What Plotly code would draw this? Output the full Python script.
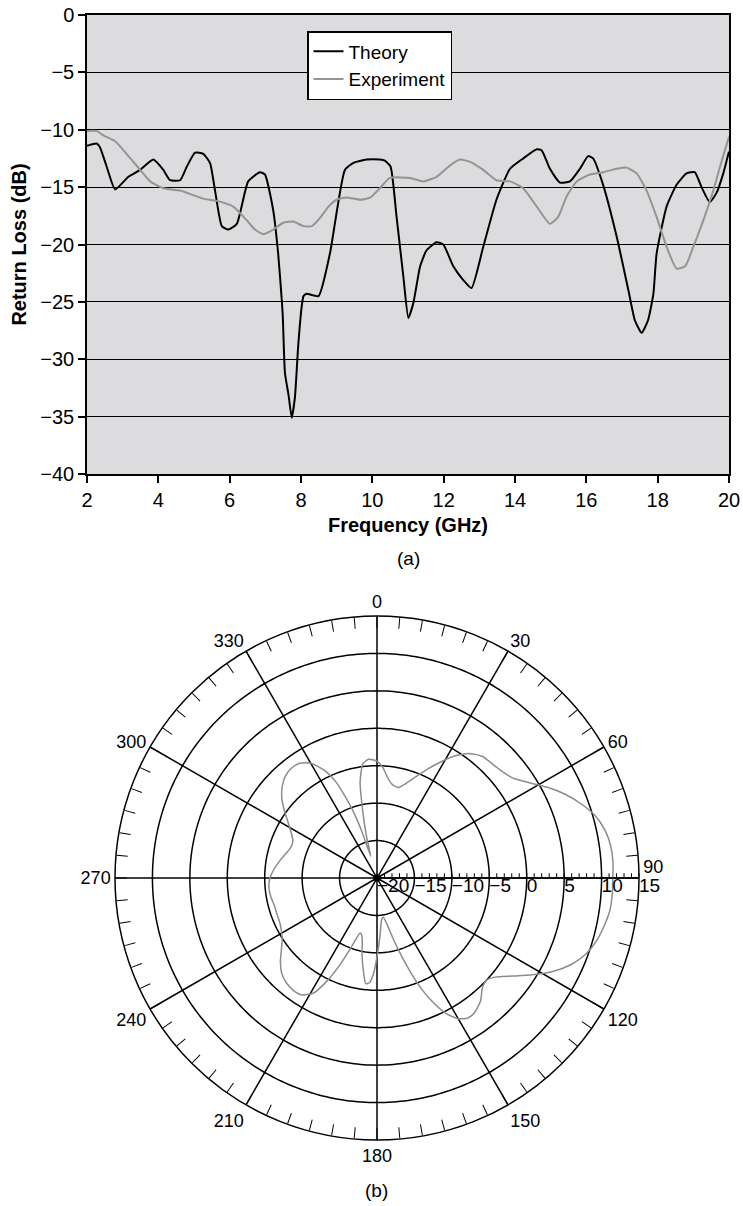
import numpy as np
import plotly.graph_objects as go

# ---- (a) return loss versus frequency ----
theory_freq = [2.0, 2.27, 2.36, 2.55, 2.79, 3.16, 3.49, 3.86, 4.14, 4.33, 4.61, 4.80, 5.03, 5.26,
               5.45, 5.59, 5.78, 5.96, 6.20, 6.52, 6.85, 6.99, 7.22, 7.36, 7.46, 7.49, 7.55, 7.65,
               7.74, 7.83, 7.92, 8.02, 8.07, 8.16, 8.49, 8.81, 9.23, 9.46, 9.84, 10.21, 10.35,
               10.51, 10.68, 10.87, 11.01, 11.15, 11.34, 11.52, 11.80, 11.99, 12.27, 12.55, 12.78,
               13.11, 13.48, 13.86, 14.23, 14.61, 14.75, 14.98, 15.26, 15.54, 15.82, 16.05, 16.19,
               16.47, 16.85, 17.18, 17.36, 17.55, 17.73, 17.88, 17.97, 18.25, 18.53, 18.81, 19.04,
               19.23, 19.46, 19.65, 19.84, 20.0]
theory_rl = [-11.4, -11.2, -11.5, -13.2, -15.2, -14.1, -13.5, -12.6, -13.5, -14.4, -14.4, -13.2,
             -12.0, -12.1, -12.9, -15.3, -18.4, -18.7, -18.2, -14.5, -13.7, -13.9, -17.0, -20.8,
             -24.8, -26.3, -31.2, -33.1, -35.1, -33.3, -28.9, -25.4, -24.5, -24.3, -24.5, -20.8,
             -13.5, -12.9, -12.6, -12.6, -12.7, -13.2, -17.6, -22.8, -26.4, -25.1, -21.9, -20.5,
             -19.8, -20.0, -21.9, -23.1, -23.8, -20.2, -16.1, -13.4, -12.5, -11.7, -11.8, -13.4,
             -14.6, -14.5, -13.4, -12.3, -12.5, -14.8, -19.3, -24.0, -26.6, -27.7, -26.6, -24.3,
             -20.8, -16.7, -14.8, -13.8, -13.7, -15.0, -16.3, -15.5, -13.8, -11.9]

exp_freq = [2.0, 2.27, 2.46, 2.79, 3.11, 3.49, 3.77, 4.14, 4.61, 4.98, 5.26, 5.64, 6.10, 6.48,
            6.71, 6.94, 7.22, 7.50, 7.78, 8.07, 8.30, 8.53, 8.77, 9.00, 9.28, 9.65, 9.95, 10.21,
            10.49, 11.06, 11.43, 11.80, 12.18, 12.46, 12.74, 13.11, 13.48, 13.86, 14.23, 14.61,
            14.98, 15.21, 15.45, 15.73, 16.10, 16.48, 16.85, 17.13, 17.41, 17.69, 17.97, 18.25,
            18.53, 18.77, 19.00, 19.28, 19.56, 19.75, 20.0]
exp_rl = [-10.1, -10.1, -10.5, -11.0, -12.1, -13.5, -14.5, -15.1, -15.3, -15.7, -16.0, -16.2,
          -16.7, -17.9, -18.7, -19.1, -18.7, -18.1, -18.0, -18.4, -18.4, -17.7, -16.7, -16.1,
          -15.9, -16.1, -15.9, -15.1, -14.2, -14.2, -14.5, -14.1, -13.1, -12.6, -12.8, -13.5,
          -14.4, -14.5, -15.1, -16.7, -18.2, -17.6, -15.8, -14.5, -13.9, -13.7, -13.4, -13.3,
          -13.8, -15.3, -17.6, -20.2, -22.1, -21.9, -20.2, -17.9, -15.3, -13.2, -10.6]

freq_ticks = [2, 4, 6, 8, 10, 12, 14, 16, 18, 20]
rl_ticks = [-40, -35, -30, -25, -20, -15, -10, -5, 0]

# ---- (b) radiation pattern (dB) ----
pattern_theta = [0, 3, 6, 9, 13, 17, 21, 25, 29, 33, 37, 41, 46, 50, 54, 58, 62, 66, 70, 74, 78,
                 82, 86, 90, 94, 98, 102, 106, 110, 114, 118, 122, 126, 130, 133, 136, 140, 144,
                 147, 150, 153, 156, 159, 162, 165, 168, 171, 174, 177, 180, 182, 184, 186, 188,
                 191, 194, 197, 200, 203, 206, 209, 213, 217, 221, 225, 229, 233, 237, 241, 245,
                 250, 255, 260, 265, 270, 275, 280, 285, 290, 294, 298, 302, 306, 310, 314, 318,
                 322, 326, 330, 334, 337, 340, 342, 344, 346, 348, 350, 353, 356]
pattern_db = [-4.4, -5.2, -6.5, -7.3, -7.6, -6.8, -5.5, -3.9, -2.2, -0.5, 0.8, 1.5, 1.7, 2.0, 2.6,
              4.0, 5.8, 7.5, 9.0, 10.3, 11.1, 11.5, 11.6, 11.5, 11.5, 11.4, 11.0, 10.5, 9.7, 8.4,
              6.6, 4.4, 2.3, 0.6, 0.0, 0.3, 1.5, 2.2, 2.3, 1.7, 0.3, -2.0, -5.0, -8.5, -11.5,
              -13.8, -14.7, -14.3, -12.3, -9.5, -7.3, -6.0, -5.8, -7.2, -9.5, -11.8, -12.3, -10.5,
              -7.5, -4.6, -2.4, -1.4, -1.3, -1.5, -2.0, -2.9, -4.0, -4.9, -5.4, -5.7, -5.8, -5.8,
              -5.6, -5.5, -5.7, -6.2, -6.8, -7.4, -7.8, -7.7, -7.0, -6.0, -4.7, -3.4, -2.4, -1.7,
              -1.4, -1.5, -2.3, -4.0, -6.2, -10.0, -13.5, -17.0, -14.0, -10.8, -7.0, -4.6, -4.1]

radial_range = [-20, 15]
ring_db = [-15, -10, -5, 0, 5, 10]
ring_labels = [-20, -15, -10, -5, 0, 5, 10, 15]
spoke_angles = [0, 30, 60, 90, 120, 150, 180, 210, 240, 270, 300, 330]

W, H = 743, 1206
FONT = "Liberation Sans, Arial, sans-serif"


def px_x(v):
    return v / W


def px_y(v):
    return 1 - v / H


fig = go.Figure()

fig.add_trace(go.Scatter(x=theory_freq, y=theory_rl, name="Theory", mode="lines",
                         line=dict(color="black", width=2, shape="spline", smoothing=0.5)))
fig.add_trace(go.Scatter(x=exp_freq, y=exp_rl, name="Experiment", mode="lines",
                         line=dict(color="#949494", width=2, shape="spline", smoothing=0.5)))

# polar rings
ring_theta, ring_r = [], []
full_turn = list(np.arange(0, 361, 1.0))
for rv in ring_db:
    ring_theta += full_turn + [None]
    ring_r += [rv] * len(full_turn) + [None]
fig.add_trace(go.Scatterpolar(theta=ring_theta, r=ring_r, mode="lines",
                              line=dict(color="black", width=1.5), showlegend=False,
                              hoverinfo="skip"))

# polar spokes
spoke_theta, spoke_r = [], []
for a in spoke_angles:
    spoke_theta += [a, a, None]
    spoke_r += [radial_range[0], radial_range[1], None]
fig.add_trace(go.Scatterpolar(theta=spoke_theta, r=spoke_r, mode="lines",
                              line=dict(color="black", width=1.5), showlegend=False,
                              hoverinfo="skip"))

# measured pattern
fig.add_trace(go.Scatterpolar(theta=pattern_theta + [pattern_theta[0]],
                              r=pattern_db + [pattern_db[0]], mode="lines",
                              line=dict(color="#8c8c8c", width=1.5, shape="spline", smoothing=0.6),
                              showlegend=False))

# centre dot
fig.add_trace(go.Scatterpolar(theta=[0], r=[radial_range[0]], mode="markers",
                              marker=dict(color="black", size=7), showlegend=False))

# radial scale labels along the 90 degree line
fig.add_trace(go.Scatterpolar(theta=[90] * len(ring_labels), r=ring_labels, mode="text",
                              text=[str(v).replace("-", "\u2212") for v in ring_labels],
                              textposition="bottom right",
                              textfont=dict(size=19, color="black", family=FONT),
                              showlegend=False, hoverinfo="skip"))

angle_ticks = list(range(0, 360, 5))
angle_text = []
for a in angle_ticks:
    if a == 90:
        angle_text.append("90<br> ")  # lift the label above the radial scale
    elif a % 30 == 0:
        angle_text.append(str(a))
    else:
        angle_text.append("")
minor_r = list(range(radial_range[0], radial_range[1] + 1))

fig.update_layout(
    width=W, height=H,
    margin=dict(l=0, r=0, t=0, b=0),
    paper_bgcolor="white",
    plot_bgcolor="#dcdcde",
    font=dict(family=FONT, color="black", size=20),
    xaxis=dict(domain=[px_x(87), px_x(729)], range=[2, 20], tickvals=freq_ticks,
               ticks="outside", ticklen=7, tickwidth=1.5, tickcolor="black",
               showline=True, linecolor="black", linewidth=1.5, mirror=True,
               showgrid=False, zeroline=False, automargin=False,
               tickfont=dict(size=20),
               title=dict(text="<b>Frequency (GHz)</b>", font=dict(size=20), standoff=8)),
    yaxis=dict(domain=[px_y(474), px_y(15)], range=[-40, 0], tickvals=rl_ticks,
               ticks="outside", ticklen=7, tickwidth=1.5, tickcolor="black",
               showline=True, linecolor="black", linewidth=1.5, mirror=True,
               showgrid=True, gridcolor="black", gridwidth=1, zeroline=False,
               automargin=False, tickfont=dict(size=20),
               title=dict(text="<b>Return Loss (dB)</b>", font=dict(size=20), standoff=8)),
    legend=dict(x=px_x(307), y=px_y(31), xanchor="left", yanchor="top",
                bgcolor="white", bordercolor="black", borderwidth=1.5,
                font=dict(size=19), itemwidth=30, entrywidth=160),
    polar=dict(
        domain=dict(x=[px_x(115), px_x(639)], y=[px_y(1140), px_y(616)]),
        bgcolor="white",
        angularaxis=dict(rotation=90, direction="clockwise", tickmode="array",
                         tickvals=angle_ticks, ticktext=angle_text,
                         ticks="inside", ticklen=11, tickwidth=1.3, tickcolor="black",
                         showline=True, linecolor="black", linewidth=1.5,
                         showgrid=False, tickfont=dict(size=18)),
        radialaxis=dict(range=radial_range, angle=0, tickmode="array",
                        tickvals=minor_r, ticktext=[""] * len(minor_r),
                        ticks="outside", ticklen=4, tickwidth=1.2, tickcolor="black",
                        side="counterclockwise",
                        showline=True, linecolor="black", linewidth=1.5,
                        showgrid=False),
    ),
    annotations=[
        dict(text="(a)", x=px_x(408), y=px_y(559), xref="paper", yref="paper",
             xanchor="center", yanchor="middle", showarrow=False, font=dict(size=19)),
        dict(text="(b)", x=px_x(377), y=px_y(1190), xref="paper", yref="paper",
             xanchor="center", yanchor="middle", showarrow=False, font=dict(size=19)),
    ],
)

fig.write_html("out.html")
